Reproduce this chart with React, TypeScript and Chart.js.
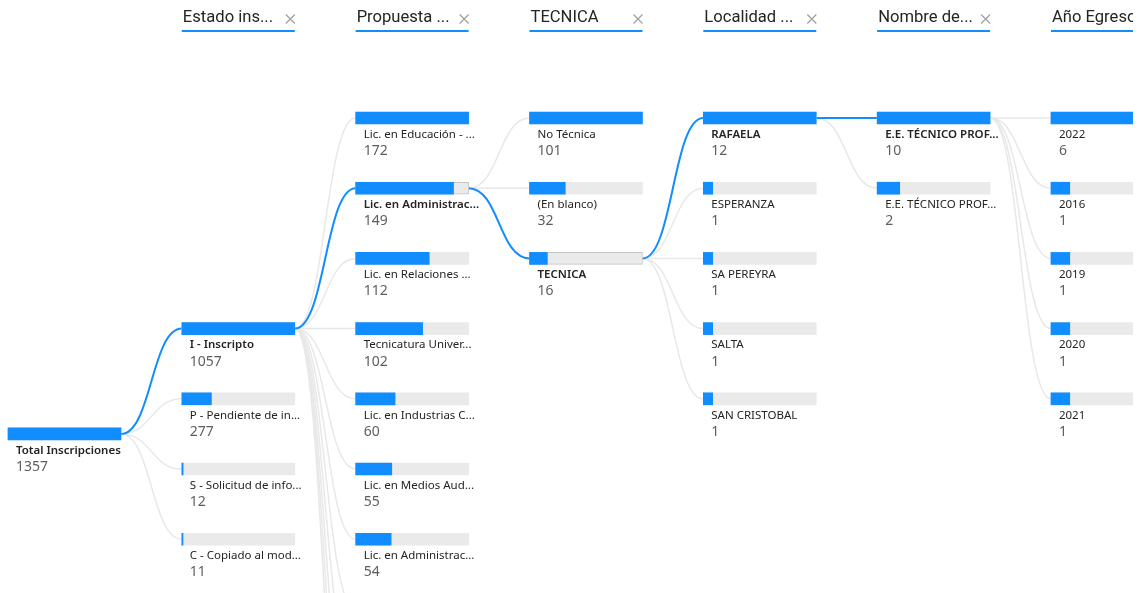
import React, { useEffect, useRef } from "react";
import { Chart, registerables } from "chart.js";

Chart.register(...registerables);

// ---- data ----
const columnTitles = ["", "Estado ins...", "Propuesta ...", "TECNICA", "Localidad ...", "Nombre de...", "Año Egreso"];

const totalLabels = ["Total Inscripciones"];
const totalValues = [1357];

const estadoLabels = ["I - Inscripto", "P - Pendiente de in...", "S - Solicitud de info...", "C - Copiado al mod..."];
const estadoValues = [1057, 277, 12, 11];

const propuestaLabels = [
  "Lic. en Educación - ...",
  "Lic. en Administrac...",
  "Lic. en Relaciones ...",
  "Tecnicatura Univer...",
  "Lic. en Industrias C...",
  "Lic. en Medios Aud...",
  "Lic. en Administrac...",
  "Otras propuestas 1",
  "Otras propuestas 2",
  "Otras propuestas 3",
  "Otras propuestas 4",
  "Otras propuestas 5",
];
const propuestaValues = [172, 149, 112, 102, 60, 55, 54, 52, 50, 48, 45, 42];

const tecnicaLabels = ["No Técnica", "(En blanco)", "TECNICA"];
const tecnicaValues = [101, 32, 16];

const localidadLabels = ["RAFAELA", "ESPERANZA", "SA PEREYRA", "SALTA", "SAN CRISTOBAL"];
const localidadValues = [12, 1, 1, 1, 1];

const nombreLabels = ["E.E. TÉCNICO PROF...", "E.E. TÉCNICO PROF..."];
const nombreValues = [10, 2];

const anioLabels = ["2022", "2016", "2019", "2020", "2021"];
const anioValues = [6, 1, 1, 1, 1];

// index of the expanded (selected) node in each level, -1 = none
const selectedPath = [0, 0, 1, 2, 0, 0, -1];

// ---- layout ----
const levelFirstRow = [4.5, 3, 0, 0, 0, 0, 0];
const BAR_SPAN = 0.65; // in column units
const X_MIN = -0.046;
const X_MAX = 6.518;
const Y_MIN = -1.681;
const Y_MAX = 6.766;

const BLUE = "#118DFF";
const TRACK = "#EAEAEA";

const levels = [
  { labels: totalLabels, values: totalValues },
  { labels: estadoLabels, values: estadoValues },
  { labels: propuestaLabels, values: propuestaValues },
  { labels: tecnicaLabels, values: tecnicaValues },
  { labels: localidadLabels, values: localidadValues },
  { labels: nombreLabels, values: nombreValues },
  { labels: anioLabels, values: anioValues },
];

type NodeInfo = { col: number; row: number; idx: number; label: string; value: number; selected: boolean };

function buildNodes(): NodeInfo[] {
  const nodes: NodeInfo[] = [];
  levels.forEach((lv, c) => {
    lv.values.forEach((v, i) => {
      nodes.push({
        col: c,
        row: levelFirstRow[c] + i,
        idx: i,
        label: lv.labels[i],
        value: v,
        selected: selectedPath[c] === i,
      });
    });
  });
  return nodes;
}

export default function App() {
  const ref = useRef<HTMLCanvasElement | null>(null);

  useEffect(() => {
    const canvas = ref.current;
    if (!canvas) return;
    const nodes = buildNodes();

    const valueData: any[] = [];
    const trackData: any[] = [];
    const trackBorders: string[] = [];
    const trackBorderW: number[] = [];
    levels.forEach((lv, c) => {
      const max = Math.max(...lv.values);
      lv.values.forEach((v, i) => {
        const r = levelFirstRow[c] + i;
        trackData.push({ x: [c, c + BAR_SPAN], y: r });
        valueData.push({ x: [c, c + (BAR_SPAN * v) / max], y: r });
        const sel = selectedPath[c] === i && c > 0 && v < max;
        trackBorders.push(sel ? "#C8C6C4" : TRACK);
        trackBorderW.push(sel ? 1 : 0);
      });
    });

    const linkPlugin = {
      id: "links",
      beforeDatasetsDraw(chart: any) {
        const { ctx } = chart;
        const xs = chart.scales.x;
        const ys = chart.scales.y;
        const draw = (blue: boolean) => {
          for (let c = 1; c < levels.length; c++) {
            const pIdx = selectedPath[c - 1];
            if (pIdx < 0) continue;
            const px = xs.getPixelForValue(c - 1 + BAR_SPAN);
            const py = ys.getPixelForValue(levelFirstRow[c - 1] + pIdx);
            const cx = xs.getPixelForValue(c);
            levels[c].values.forEach((_, i) => {
              const isBlue = selectedPath[c] === i;
              if (isBlue !== blue) return;
              const cy = ys.getPixelForValue(levelFirstRow[c] + i);
              const mx = (px + cx) / 2;
              ctx.beginPath();
              ctx.moveTo(px, py);
              ctx.bezierCurveTo(mx, py, mx, cy, cx, cy);
              ctx.strokeStyle = blue ? BLUE : "#E8E8E8";
              ctx.lineWidth = blue ? 2 : 1.5;
              ctx.stroke();
            });
          }
        };
        ctx.save();
        draw(false);
        draw(true);
        ctx.restore();
      },
    };

    const textPlugin = {
      id: "texts",
      afterDatasetsDraw(chart: any) {
        const { ctx } = chart;
        const xs = chart.scales.x;
        const ys = chart.scales.y;
        ctx.save();
        ctx.textBaseline = "middle";
        ctx.textAlign = "left";
        nodes.forEach((n) => {
          const x = xs.getPixelForValue(n.col);
          const y = ys.getPixelForValue(n.row);
          ctx.fillStyle = "#252423";
          ctx.font = `${n.selected ? "600" : "400"} 11.5px "Segoe UI", "Noto Sans", sans-serif`;
          ctx.fillText(n.label, x + 8, y + 16.5);
          ctx.fillStyle = "#605E5C";
          ctx.font = `400 14px "Segoe UI", "Noto Sans", sans-serif`;
          ctx.fillText(String(n.value), x + 8, y + 33);
        });
        // headers
        columnTitles.forEach((t, c) => {
          if (!t) return;
          const x = xs.getPixelForValue(c);
          const w = xs.getPixelForValue(c + BAR_SPAN) - x;
          ctx.fillStyle = "#252423";
          ctx.font = `400 16.6px Roboto, sans-serif`;
          ctx.fillText(t, x + 1, 18);
          ctx.fillStyle = BLUE;
          ctx.fillRect(x, 30, w, 2);
          const cx = x + 108.5;
          ctx.strokeStyle = "#A19F9D";
          ctx.lineWidth = 1.2;
          ctx.beginPath();
          ctx.moveTo(cx - 4.5, 14.5);
          ctx.lineTo(cx + 4.5, 23.5);
          ctx.moveTo(cx + 4.5, 14.5);
          ctx.lineTo(cx - 4.5, 23.5);
          ctx.stroke();
        });
        ctx.restore();
      },
    };

    const chart = new Chart(canvas, {
      type: "bar",
      data: {
        datasets: [
          {
            data: valueData,
            backgroundColor: BLUE,
            borderWidth: 0,
            barThickness: 12,
            grouped: false,
            order: 1,
          } as any,
          {
            data: trackData,
            backgroundColor: TRACK,
            borderColor: trackBorders,
            borderWidth: trackBorderW,
            borderSkipped: false,
            barThickness: 12,
            grouped: false,
            order: 2,
          } as any,
        ],
      },
      options: {
        indexAxis: "y",
        animation: false,
        responsive: false,
        events: [],
        layout: { padding: 0 },
        plugins: { legend: { display: false }, tooltip: { enabled: false } },
        scales: {
          x: { type: "linear", min: X_MIN, max: X_MAX, display: false, offset: false, bounds: "data" } as any,
          y: { type: "linear", min: Y_MIN, max: Y_MAX, reverse: true, display: false, offset: false, bounds: "data" } as any,
        },
      },
      plugins: [linkPlugin, textPlugin],
    });
    return () => chart.destroy();
  }, []);

  return (
    <div style={{ position: "fixed", left: 0, top: 0, width: 1133, height: 593, overflow: "hidden", background: "#fff" }}>
      <canvas ref={ref} width={1141} height={593} style={{ display: "block" }} />
    </div>
  );
}
